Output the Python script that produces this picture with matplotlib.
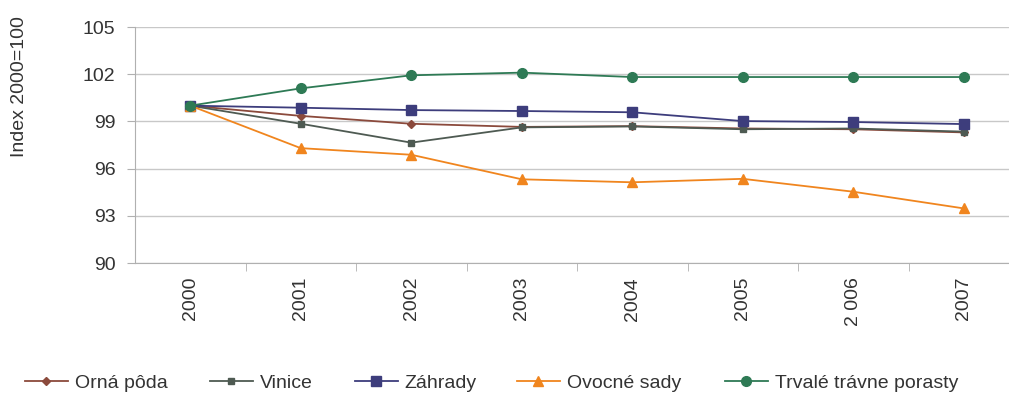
import numpy as np
import matplotlib
matplotlib.use("agg")
import matplotlib.pyplot as plt
from matplotlib.ticker import MultipleLocator, FixedLocator

plt.rcParams['font.family'] = ['Liberation Sans', 'DejaVu Sans']

years = ['2000', '2001', '2002', '2003', '2004', '2005', '2 006', '2007']
orna = [100, 99.35, 98.85, 98.65, 98.7, 98.55, 98.5, 98.3]
vinice = [100, 98.85, 97.65, 98.62, 98.68, 98.5, 98.55, 98.35]
zahrady = [100, 99.87, 99.72, 99.66, 99.58, 99.02, 98.96, 98.83]
ovocne = [100, 97.3, 96.88, 95.32, 95.13, 95.35, 94.53, 93.47]
trvale = [100, 101.1, 101.93, 102.1, 101.82, 101.82, 101.82, 101.82]

series = [
    ('Orná pôda', orna, '#8B4A3C', 'D', 4.5),
    ('Vinice', vinice, '#4E5A52', 's', 5),
    ('Záhrady', zahrady, '#3D3D7C', 's', 7.5),
    ('Ovocné sady', ovocne, '#F0851E', '^', 7.5),
    ('Trvalé trávne porasty', trvale, '#2E7A55', 'o', 7),
]
# left edge (px) of each legend entry
legend_x = [25, 210, 355, 517, 725]

fig = plt.figure(figsize=(10.09, 4.01), dpi=100)
ax = fig.add_axes([135 / 1009, 138 / 401, 884 / 1009, 236 / 401])

x = np.arange(len(years))
handles = []
for name, vals, col, mk, ms in series:
    h, = ax.plot(x, vals, color=col, marker=mk, markersize=ms, linewidth=1.3,
                 label=name)
    handles.append(h)

ax.set_xlim(-0.5, len(years) - 0.5)
ax.set_ylim(90, 105)
ax.yaxis.set_major_locator(MultipleLocator(3))
ax.grid(axis='y', color='#C8C8C8', linewidth=1)
ax.set_axisbelow(True)

ax.set_xticks(x)
ax.set_xticklabels(years, rotation=90, fontsize=14, color='#333333')
ax.xaxis.set_minor_locator(FixedLocator(np.arange(0.5, len(years) - 0.5, 1)))
ax.tick_params(axis='x', which='major', length=0, pad=10)
ax.tick_params(axis='x', which='minor', length=6, color='#B0B0B0')
ax.tick_params(axis='y', length=6, color='#B0B0B0', labelsize=14,
               labelcolor='#333333', pad=8)

for s in ['top', 'right']:
    ax.spines[s].set_visible(False)
for s in ['left', 'bottom']:
    ax.spines[s].set_color('#B0B0B0')

fig.text(20 / 1009, 1 - 87 / 401, 'Index 2000=100', rotation=90,
         ha='center', va='center', fontsize=14, color='#333333')

for h, lx in zip(handles, legend_x):
    leg = fig.legend(handles=[h], loc='center left',
                     bbox_to_anchor=(lx / 1009, 1 - 383 / 401),
                     frameon=False, fontsize=14, handlelength=2.2,
                     handletextpad=0.35, borderpad=0, borderaxespad=0,
                     labelcolor='#333333')

fig.savefig('out.png', dpi=100)
